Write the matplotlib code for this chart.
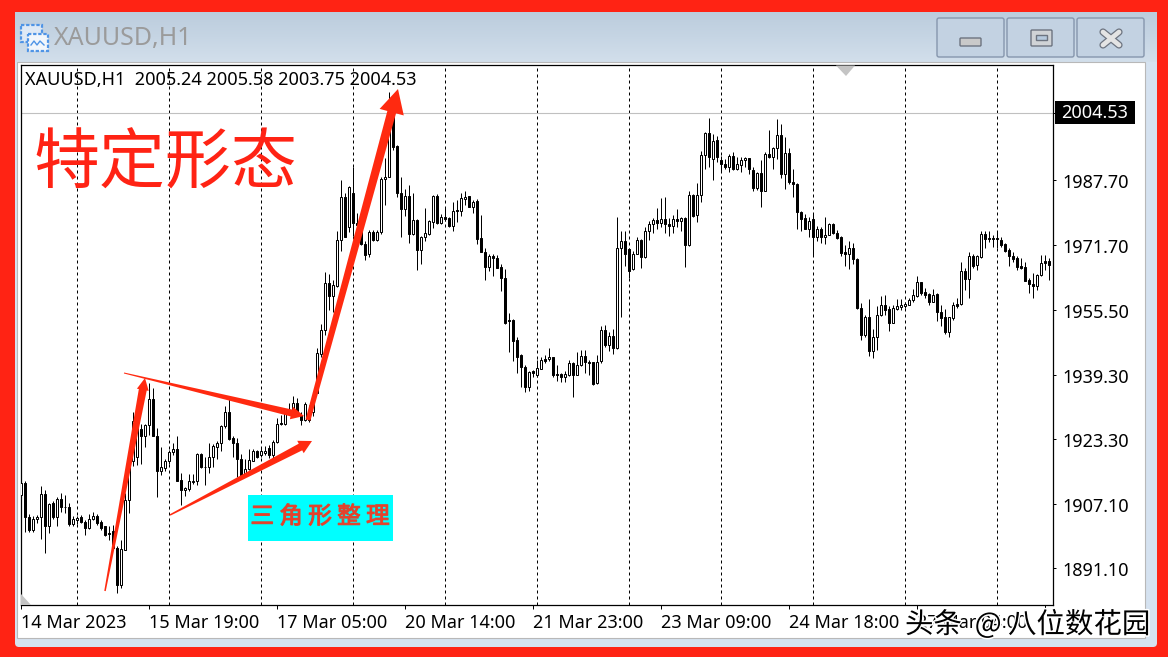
import matplotlib
matplotlib.use("Agg")
import numpy as np
import matplotlib.pyplot as plt
from matplotlib.patches import Rectangle, FancyBboxPatch, Polygon
from matplotlib.transforms import ScaledTranslation
import matplotlib.patheffects as pe

plt.rcParams['font.family'] = ['Noto Sans', 'Noto Sans CJK SC', 'DejaVu Sans']

opens = [
1909.4,1912.4,1903.8,1900.6,1903.3,1903.8,1909.5,1901.7,1907.3,1903.8,
1908.4,1906.4,1906.4,1902.0,1903.0,1903.8,1902.7,1901.2,1903.3,1904.1,
1902.5,1901.5,1899.8,1900.4,1896.2,1886.9,1895.6,1908.1,1917.7,1918.9,
1925.8,1923.9,1926.8,1933.3,1924.1,1915.2,1916.0,1917.7,1920.0,1920.7,
1913.1,1910.6,1910.9,1912.6,1912.9,1919.5,1916.4,1916.3,1918.7,1921.4,
1922.2,1926.6,1930.0,1923.5,1922.2,1918.3,1914.3,1915.8,1917.9,1920.3,
1919.3,1919.7,1921.0,1919.2,1922.4,1927.2,1927.1,1930.0,1930.0,1932.2,
1929.3,1928.0,1930.5,1930.1,1934.7,1944.5,1950.4,1962.1,1959.0,1961.5,
1972.9,1983.5,1976.0,1984.5,1977.0,1976.6,1971.9,1969.4,1974.8,1972.9,
1974.8,1988.0,1988.5,2003.6,1996.3,1984.7,1980.5,1983.8,1974.3,1977.9,
1970.4,1973.5,1974.4,1977.3,1983.8,1977.0,1978.5,1978.3,1976.4,1980.3,
1980.0,1983.2,1983.8,1981.2,1982.5,1973.3,1970.0,1966.1,1968.9,1968.5,
1966.1,1963.3,1953.0,1953.0,1948.0,1944.2,1941.1,1936.3,1940.1,1939.1,
1940.8,1943.1,1943.1,1943.7,1939.5,1939.5,1938.8,1939.2,1942.1,1939.3,
1941.6,1944.0,1942.4,1942.4,1937.2,1942.6,1950.4,1946.7,1949.0,1945.9,
1970.8,1972.5,1970.5,1965.6,1969.5,1972.9,1968.7,1975.0,1976.8,1977.8,
1977.0,1978.0,1976.8,1976.3,1978.0,1977.5,1978.3,1971.7,1984.1,1979.0,
1984.0,1994.1,1999.5,1993.1,1997.7,1992.8,1991.7,1991.1,1993.7,1990.6,
1991.6,1992.7,1993.2,1990.3,1985.9,1989.5,1985.2,1994.2,1993.6,1995.7,
1999.0,1989.4,1994.5,1987.2,1986.7,1979.8,1978.3,1975.7,1978.0,1973.7,
1975.5,1973.5,1974.2,1976.8,1974.5,1973.5,1970.0,1969.5,1970.8,1968.1,
1955.8,1949.3,1953.8,1945.3,1948.8,1954.1,1956.6,1955.6,1952.3,1955.7,
1956.2,1956.3,1956.7,1957.8,1959.0,1962.3,1960.0,1959.4,1957.5,1959.4,
1954.8,1953.6,1950.0,1953.5,1956.8,1956.8,1965.2,1963.1,1968.9,1966.6,
1968.7,1974.4,1973.4,1973.4,1973.4,1972.9,1971.8,1970.4,1969.0,1968.5,
1966.4,1966.1,1962.9,1961.9,1961.5,1964.1,1967.6,1967.6]
closes = [
1912.4,1903.8,1900.6,1903.3,1903.8,1909.5,1901.7,1907.1,1903.8,1908.4,
1906.2,1906.2,1902.0,1903.3,1903.5,1902.5,1901.2,1903.3,1904.1,1902.3,
1901.0,1899.4,1899.6,1896.1,1886.9,1895.8,1908.1,1917.7,1927.8,1926.8,
1923.9,1926.8,1933.3,1924.1,1915.2,1916.3,1917.9,1920.0,1920.7,1912.9,
1910.6,1911.0,1912.8,1912.9,1919.6,1916.3,1916.3,1918.7,1921.6,1922.2,
1926.6,1930.0,1923.2,1922.2,1918.2,1914.3,1915.8,1918.1,1920.3,1918.9,
1920.3,1920.4,1919.3,1922.4,1927.1,1926.9,1930.0,1929.5,1932.2,1929.7,
1928.0,1932.0,1928.0,1933.4,1944.6,1950.4,1962.1,1959.0,1961.7,1972.9,
1983.5,1973.7,1986.0,1977.0,1976.7,1971.9,1969.1,1974.8,1972.9,1974.8,
1988.0,1988.5,2003.6,1996.1,1984.7,1980.5,1983.8,1974.3,1977.9,1970.4,
1973.7,1974.5,1977.6,1983.8,1977.0,1978.5,1978.0,1976.4,1980.2,1980.0,
1983.3,1983.7,1981.2,1982.3,1973.2,1970.0,1966.1,1968.9,1968.5,1966.0,
1963.3,1952.3,1952.6,1947.8,1943.8,1941.1,1936.3,1940.0,1939.8,1940.9,
1942.9,1942.8,1943.7,1939.1,1939.1,1938.8,1939.4,1942.1,1939.3,1941.7,
1944.0,1942.4,1942.1,1937.0,1942.4,1950.4,1946.7,1949.0,1945.9,1970.8,
1972.5,1969.5,1965.2,1969.5,1972.9,1968.7,1975.0,1976.8,1977.8,1977.0,
1978.0,1976.8,1976.3,1978.0,1977.5,1978.3,1971.7,1984.0,1978.9,1984.0,
1994.1,1999.5,1993.5,1997.6,1993.6,1991.7,1991.1,1993.7,1990.6,1991.7,
1992.7,1993.2,1990.5,1985.9,1989.5,1985.2,1994.2,1993.6,1995.8,1999.0,
1989.4,1994.5,1987.2,1986.7,1979.8,1978.2,1975.7,1977.5,1973.7,1975.5,
1973.5,1974.2,1976.8,1974.5,1973.4,1969.7,1969.5,1970.8,1968.1,1955.8,
1949.3,1953.8,1945.3,1948.6,1954.1,1956.6,1955.4,1952.3,1955.8,1956.5,
1956.7,1956.9,1957.9,1959.2,1962.3,1959.7,1959.2,1957.5,1959.2,1954.8,
1953.5,1949.9,1953.6,1956.7,1956.5,1965.1,1963.1,1968.9,1966.5,1968.9,
1974.4,1973.0,1973.0,1973.1,1973.0,1971.6,1970.2,1968.9,1968.2,1966.2,
1966.0,1962.7,1961.8,1961.5,1964.2,1967.1,1967.2,1966.6]
highs = [
1912.7,1912.7,1904.5,1904.0,1904.4,1911.6,1910.6,1907.3,1907.7,1908.9,
1909.9,1909.4,1907.3,1904.0,1904.0,1904.4,1903.1,1904.6,1905.0,1904.6,
1903.1,1901.7,1901.5,1901.9,1896.5,1898.1,1909.8,1918.9,1930.1,1927.6,
1927.1,1927.1,1937.2,1936.1,1926.0,1921.4,1918.2,1920.6,1922.2,1924.1,
1914.8,1911.4,1914.5,1914.5,1919.9,1919.9,1918.9,1922.2,1922.1,1922.8,
1926.8,1931.5,1933.2,1923.9,1923.5,1919.5,1918.2,1920.7,1920.7,1920.6,
1921.0,1921.6,1921.8,1923.1,1928.5,1929.3,1930.5,1932.2,1934.0,1933.4,
1930.1,1932.6,1931.8,1934.7,1945.9,1951.9,1964.8,1964.3,1962.9,1975.1,
1987.8,1984.5,1986.2,1991.0,1979.5,1977.0,1972.7,1975.4,1975.4,1975.4,
1988.5,1993.2,2009.8,2003.6,1996.5,1988.5,1985.7,1986.6,1984.7,1978.0,
1973.9,1980.9,1977.9,1984.1,1984.3,1979.3,1980.8,1978.7,1982.4,1982.8,
1984.5,1985.1,1983.8,1982.8,1983.1,1979.1,1970.8,1969.5,1969.3,1969.1,
1966.9,1965.6,1954.6,1953.1,1948.6,1944.5,1941.7,1940.3,1940.5,1943.0,
1943.8,1944.2,1945.9,1943.8,1941.6,1939.6,1940.3,1943.0,1942.5,1945.0,
1945.5,1945.5,1943.0,1942.5,1944.2,1951.4,1951.7,1949.9,1950.7,1978.5,
1975.1,1975.1,1970.8,1970.1,1973.7,1973.0,1976.2,1977.6,1978.3,1980.9,
1983.4,1983.6,1978.3,1979.1,1980.6,1978.7,1978.5,1985.1,1984.3,1987.0,
1995.1,1999.8,2003.2,1999.3,1998.8,1993.9,1993.0,1994.3,1994.7,1993.6,
1993.5,1993.5,1993.4,1991.1,1989.9,1992.8,1994.9,2000.3,1996.1,2003.0,
2001.8,1998.5,1995.7,1990.6,1987.0,1980.0,1979.3,1978.5,1979.5,1976.4,
1976.2,1978.5,1977.0,1977.0,1975.4,1973.9,1971.6,1972.5,1972.0,1968.5,
1957.1,1954.2,1958.1,1950.6,1956.4,1958.8,1959.2,1956.3,1956.7,1958.2,
1958.2,1957.5,1958.3,1960.6,1963.9,1962.5,1960.8,1959.6,1960.6,1959.6,
1956.7,1955.7,1953.8,1957.3,1958.3,1967.4,1965.8,1970.0,1969.5,1969.1,
1975.1,1975.1,1975.1,1974.1,1974.9,1973.5,1972.0,1970.8,1969.9,1968.9,
1968.3,1967.5,1963.3,1964.6,1964.4,1969.1,1969.1,1968.3]
lows = [
1908.1,1900.2,1900.2,1900.2,1902.3,1898.4,1894.8,1899.8,1903.3,1901.7,
1905.0,1904.8,1901.7,1901.7,1902.1,1902.3,1899.4,1900.9,1903.0,1901.9,
1900.5,1899.2,1898.1,1895.7,1885.0,1886.1,1895.6,1904.8,1916.6,1916.8,
1917.1,1921.2,1924.3,1923.9,1908.7,1914.3,1915.2,1917.1,1919.3,1912.7,
1906.9,1909.1,1910.2,1912.1,1911.7,1916.0,1911.8,1914.8,1916.4,1918.2,
1920.2,1926.0,1922.9,1918.9,1913.9,1913.9,1914.3,1915.6,1917.7,1918.5,
1918.9,1919.3,1918.5,1918.5,1922.2,1926.8,1926.8,1929.3,1928.9,1928.9,
1926.8,1927.8,1927.6,1928.9,1934.7,1943.8,1949.2,1955.4,1955.0,1961.2,
1970.2,1973.5,1974.9,1973.9,1971.2,1971.6,1967.9,1968.7,1972.5,1972.6,
1974.4,1981.6,1988.5,1995.3,1983.7,1973.7,1978.9,1972.2,1974.1,1965.4,
1966.9,1972.7,1974.1,1975.8,1976.9,1976.9,1977.7,1976.0,1975.2,1977.4,
1978.9,1981.6,1981.0,1979.5,1971.9,1970.0,1962.9,1965.2,1964.0,1965.8,
1960.2,1952.0,1945.0,1942.8,1939.8,1936.3,1935.1,1935.3,1938.8,1938.8,
1940.6,1942.1,1942.8,1938.6,1937.8,1937.6,1937.6,1939.0,1933.8,1939.1,
1941.5,1939.6,1939.2,1936.7,1937.0,1942.1,1946.1,1945.2,1944.5,1945.7,
1953.8,1966.4,1963.5,1965.4,1969.4,1966.0,1968.5,1972.9,1974.5,1975.5,
1976.2,1974.7,1973.9,1974.5,1976.2,1975.2,1966.2,1971.4,1978.5,1977.4,
1982.4,1990.6,1991.1,1987.8,1992.4,1989.9,1990.5,1989.7,1990.2,1990.2,
1989.7,1991.1,1989.2,1985.2,1985.3,1981.2,1985.0,1993.4,1990.6,1993.0,
1988.2,1985.6,1986.8,1983.7,1975.5,1975.0,1975.5,1973.5,1968.9,1972.6,
1972.0,1971.9,1974.1,1974.3,1973.2,1968.9,1966.4,1965.6,1966.9,1955.7,
1948.0,1948.8,1944.0,1943.5,1945.5,1953.9,1954.2,1950.3,1952.1,1955.4,
1955.3,1955.8,1956.6,1957.5,1958.7,1959.2,1958.5,1956.7,1957.3,1952.8,
1951.5,1949.4,1948.8,1952.9,1955.8,1956.7,1960.4,1958.5,1965.8,1965.4,
1968.5,1970.9,1972.4,1971.2,1970.8,1971.2,1969.8,1966.5,1967.5,1965.4,
1965.6,1962.6,1959.7,1958.3,1960.4,1963.9,1965.4,1962.9]

y_ticks = [1987.70, 1971.70, 1955.50, 1939.30, 1923.30, 1907.10, 1891.10]
x_ticks = [0, 32, 64, 96, 128, 160, 192, 224, 256]
x_labels = ['14 Mar 2023', '15 Mar 19:00', '17 Mar 05:00', '20 Mar 14:00', '21 Mar 23:00',
            '23 Mar 09:00', '24 Mar 18:00', '27 Mar 04:00', '']
period_lines = [14, 37, 60, 83, 106, 129, 152, 175, 198, 221, 244]
bid = 2004.53

W, H = 1168, 657
RED = '#ff2314'
ARROW = '#ff2a10'
LABEL_SIZE = 13.0
fig = plt.figure(figsize=(W/100, H/100), dpi=100, facecolor=RED)

# ---- window chrome (behind the chart), in pixels
bg = fig.add_axes([0, 0, 1, 1], zorder=0)
bg.set_xlim(0, W); bg.set_ylim(H, 0); bg.axis('off')
bg.add_patch(FancyBboxPatch((15, 12), 1142, 635, boxstyle='round,pad=0,rounding_size=4',
                            fc='#d5e2f0', ec='none'))
bg.imshow(np.linspace(0, 1, 50).reshape(-1, 1), extent=(15, 1157, 62, 12), aspect='auto',
          cmap=matplotlib.colors.LinearSegmentedColormap.from_list('t', ['#bccddd', '#c6d5e4', '#d2dfeb']),
          zorder=1)
bg.set_xlim(0, W); bg.set_ylim(H, 0)
bg.add_patch(Rectangle((17, 62), 1128, 576, fc='white', ec='#b8b8b8', lw=0.8, zorder=2))
for bx in (937, 1007, 1077):
    bg.add_patch(FancyBboxPatch((bx, 18), 67, 39, boxstyle='round,pad=0,rounding_size=2',
                                fc='#c3d2e2', ec='#8696ad', lw=1, zorder=3))
bg.add_patch(FancyBboxPatch((960, 38), 21, 8, boxstyle='round,pad=0,rounding_size=1',
                            fc='#c9c9c9', ec='#6d7480', lw=1, zorder=4))
bg.add_patch(FancyBboxPatch((1031, 30), 21, 16, boxstyle='round,pad=0,rounding_size=1',
                            fc='#d0d3d6', ec='#6d7480', lw=1, zorder=4))
bg.add_patch(Rectangle((1036, 35), 11, 5, fc='#b6c9dd', ec='#6d7480', lw=1, zorder=5))
bg.plot([1103, 1119], [32, 45], color='#6d7480', lw=5.2, solid_capstyle='round', zorder=4)
bg.plot([1103, 1119], [45, 32], color='#6d7480', lw=5.2, solid_capstyle='round', zorder=4)
bg.plot([1103, 1119], [32, 45], color='#e4e4e4', lw=3.4, solid_capstyle='round', zorder=5)
bg.plot([1103, 1119], [45, 32], color='#e4e4e4', lw=3.4, solid_capstyle='round', zorder=5)
bg.add_patch(Rectangle((21, 25), 21, 17, fc='#dfe9f5', ec='#4f94e6', lw=1.6, ls=(0, (1.5, 0.8)), zorder=4))
bg.add_patch(Rectangle((28, 34), 20, 17, fc='#f2f6fb', ec='#4f94e6', lw=1.6, ls=(0, (1.5, 0.8)), zorder=5))
bg.plot([31, 34, 37, 40, 44], [45, 41, 45, 41, 45], color='#4f94e6', lw=1, zorder=6)
bg.text(54, 39, 'XAUUSD,H1', fontsize=18, color='#9b9b9b', va='center', ha='left', zorder=6)

# ---- chart
ax = fig.add_axes([20.5/W, (H-605)/H, (1053.3-20.5)/W, 540/H], zorder=1)
ax.set_facecolor('white')
x = np.arange(len(opens))
o, h, l, c = map(np.array, (opens, highs, lows, closes))
ax.vlines(period_lines, 0, 1, transform=ax.get_xaxis_transform(), colors='black',
          lw=0.72, linestyles=(0, (3, 3)), zorder=1)
ax.axhline(bid, color='#c0c0c0', lw=0.8, zorder=1)
ax.vlines(x, l, h, colors='black', lw=0.72, zorder=2)
up = c >= o
ax.bar(x[up], (c-o)[up], bottom=o[up], width=0.5, fc='white', ec='black', lw=0.72, zorder=3)
ax.bar(x[~up], (o-c)[~up], bottom=c[~up], width=0.5, fc='black', ec='black', lw=0.72, zorder=3)
ax.set_xlim(-0.21, 258.0)
ax.set_ylim(1881.9, 2016.48)
ax.yaxis.tick_right()
ax.set_yticks(y_ticks + [bid])
ax.set_yticklabels([f'{v:.2f}' for v in y_ticks] + [''])
ax.tick_params(axis='y', length=2.5, width=0.72, pad=4, labelsize=LABEL_SIZE, colors='black')
down_1px = ScaledTranslation(0, -1/100, fig.dpi_scale_trans)
for lab in ax.get_yticklabels():
    lab.set_transform(lab.get_transform() + down_1px)
ax.set_xticks(x_ticks)
ax.set_xticklabels(x_labels, ha='left')
ax.tick_params(axis='x', length=3, width=0.72, pad=3.2, labelsize=LABEL_SIZE)
for s in ax.spines.values():
    s.set_linewidth(0.9)
    s.set_color('black')

# ---- overlay annotations, in pixels
ov = fig.add_axes([0, 0, 1, 1], zorder=2)
ov.set_xlim(0, W); ov.set_ylim(H, 0); ov.axis('off'); ov.patch.set_alpha(0)


def arrow(tail, tip, w0, w1, head_len, head_w):
    t, p = np.array(tail, float), np.array(tip, float)
    d = (p - t) / np.hypot(*(p - t))
    n = np.array([-d[1], d[0]])
    b = p - d * head_len
    ov.add_patch(Polygon([t + n*w0/2, b + n*w1/2, b + n*head_w/2, p, b - n*head_w/2,
                          b - n*w1/2, t - n*w0/2], fc=ARROW, ec='none', zorder=5))


arrow((105, 591), (145, 378), 1.5, 8, 12, 12)
arrow((124, 373), (304, 416), 1, 7, 13, 13)
arrow((170, 515), (312, 441), 1.5, 7.5, 13, 14)
arrow((308, 420), (398, 89), 5, 9, 24, 25)

ov.add_patch(Polygon([(836, 65.5), (855, 65.5), (846, 76)], fc='#c4c4c4', ec='none', zorder=3))
ov.add_patch(Polygon([(21, 594), (21, 604.5), (31, 604.5)], fc='#c4c4c4', ec='none', zorder=3))

ov.text(25, 80, 'XAUUSD,H1  2005.24 2005.58 2003.75 2004.53', fontsize=LABEL_SIZE, color='black',
        va='center', ha='left', zorder=6)
ov.text(165, 164.5, '特定形态', fontsize=47.5, color=RED, va='center', ha='center',
        family=['Noto Sans CJK SC', 'DejaVu Sans'], zorder=6)
ov.add_patch(Rectangle((248, 495), 145, 45.5, fc='#00ffff', ec='none', zorder=6))
ov.text(320, 517, '三 角 形 整 理', fontsize=17, color='#e8402a', va='center', ha='center',
        family=['Noto Sans CJK SC', 'DejaVu Sans'], zorder=7,
        path_effects=[pe.withStroke(linewidth=0.8, foreground='#c9553f')])
ov.add_patch(Rectangle((1055, 101), 80, 23, fc='black', ec='none', zorder=6))
ov.text(1095, 113.5, f'{bid:.2f}', fontsize=LABEL_SIZE, color='white', va='center', ha='center', zorder=7)
ov.text(905, 625, '头条  @ 八位数花园', fontsize=20.5, color='black', va='center', ha='left',
        family=['Noto Sans CJK SC', 'DejaVu Sans'], zorder=8,
        path_effects=[pe.withStroke(linewidth=2.2, foreground='white')])

fig.savefig('out.png', dpi=100, facecolor=fig.get_facecolor())
